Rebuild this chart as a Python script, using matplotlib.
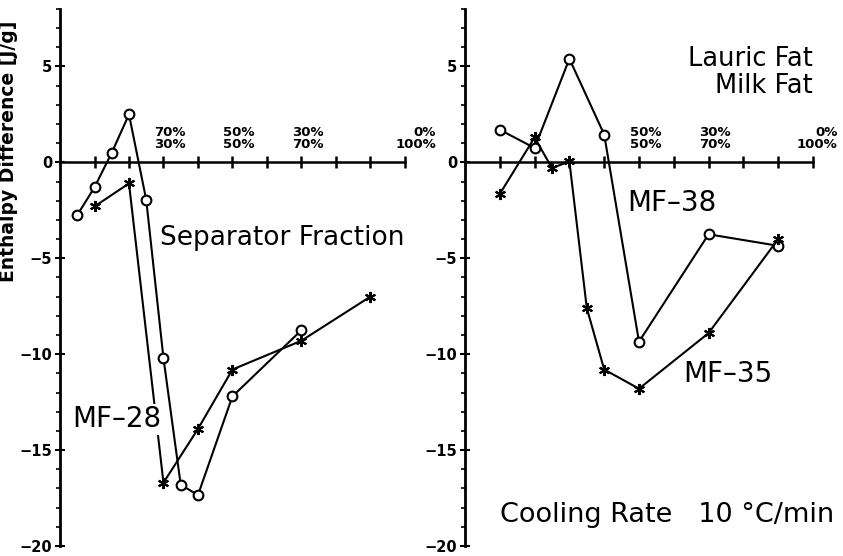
import matplotlib.pyplot as plt
from matplotlib.ticker import MultipleLocator

# x = milk fat share in the blend [%], y = enthalpy difference [J/g]
left_o_x = [5, 10, 15, 20, 25, 30, 35, 40, 50, 70]
left_o_y = [-2.75, -1.3, 0.5, 2.5, -1.95, -10.2, -16.8, -17.35, -12.2, -8.75]
left_x_x = [10, 20, 30, 40, 50, 70, 90]
left_x_y = [-2.3, -1.1, -16.7, -13.9, -10.8, -9.3, -7.0]

right_o_x = [10, 20, 30, 40, 50, 70, 90]
right_o_y = [1.7, 0.75, 5.4, 1.45, -9.35, -3.75, -4.35]
right_x_x = [10, 20, 25, 30, 35, 40, 50, 70, 90]
right_x_y = [-1.65, 1.3, -0.3, 0.05, -7.6, -10.8, -11.8, -8.9, -4.0]

tick_pos = [30, 50, 70, 100]
tick_text = ["70%\n30%", "50%\n50%", "30%\n70%", "0%\n100%"]

plt.rcParams['font.family'] = ['DejaVu Sans']

fig = plt.figure(figsize=(8.43, 5.56), dpi=100)
ax1 = fig.add_axes([0.0712, 0.018, 0.409, 0.966])
ax2 = fig.add_axes([0.5516, 0.018, 0.4128, 0.966])

asterisk = (6, 2, 0)


def style_axis(ax, label_ticks, end_off):
    ax.set_xlim(0, 100)
    ax.set_ylim(-20, 8)
    for s in ['top', 'right']:
        ax.spines[s].set_visible(False)
    ax.spines['bottom'].set_position(('data', 0))
    ax.spines['bottom'].set_linewidth(1.8)
    ax.spines['left'].set_linewidth(2.0)
    ax.set_xticks(range(10, 101, 10))
    ax.set_xticklabels([])
    ax.tick_params(axis='x', direction='inout', length=8, width=1.8)
    ax.yaxis.set_minor_locator(MultipleLocator(1))
    ax.set_yticks([-20, -15, -10, -5, 0, 5])
    ax.set_yticklabels(['\u221220', '\u221215', '\u221210', '\u22125', '0', '5'])
    ax.tick_params(axis='y', which='major', direction='inout', length=7, width=1.5,
                   labelsize=10.5, pad=2)
    ax.tick_params(axis='y', which='minor', direction='out', length=3, width=1.2)
    for lab in ax.get_yticklabels():
        lab.set_fontweight('bold')
    for p, t in zip(tick_pos, tick_text):
        if p in label_ticks:
            off = end_off if p == 100 else 1.8
            ax.text(p + off, 1.25, t, ha='center', va='center', fontsize=9.5,
                    fontweight='bold', linespacing=0.95, multialignment='right',
                    clip_on=False)


style_axis(ax1, [30, 50, 70, 100], 3.2)
style_axis(ax2, [50, 70, 100], 1.2)

line_kw = dict(color='black', lw=1.5, clip_on=False)
ax1.plot(left_o_x, left_o_y, marker='o', ms=7, mfc='white', mec='black', mew=1.5, **line_kw)
ax1.plot(left_x_x, left_x_y, marker=asterisk, ms=8, mew=1.5, **line_kw)
ax2.plot(right_o_x, right_o_y, marker='o', ms=7, mfc='white', mec='black', mew=1.5, **line_kw)
ax2.plot(right_x_x, right_x_y, marker=asterisk, ms=8, mew=1.5, **line_kw)

ax1.set_ylabel('Enthalpy Difference [J/g]', fontsize=13.5, fontweight='bold')
ax1.yaxis.set_label_coords(-0.122, 0.734)

ax1.text(29, -3.95, 'Separator Fraction', fontsize=19, ha='left', va='center')
ax1.text(3.5, -13.4, 'MF\u201328', fontsize=20, ha='left', va='center',
         bbox=dict(facecolor='white', edgecolor='none', pad=1), zorder=5)

ax2.text(100, 5.4, 'Lauric Fat', fontsize=18.5, ha='right', va='center')
ax2.text(100, 4.0, 'Milk Fat', fontsize=18.5, ha='right', va='center')
ax2.text(46.5, -2.1, 'MF\u201338', fontsize=20, ha='left', va='center')
ax2.text(62.6, -11.05, 'MF\u201335', fontsize=20, ha='left', va='center')
ax2.text(10, -18.36, 'Cooling Rate   10 \u00b0C/min', fontsize=19.5, ha='left', va='center')

fig.savefig('out.png', dpi=100)
